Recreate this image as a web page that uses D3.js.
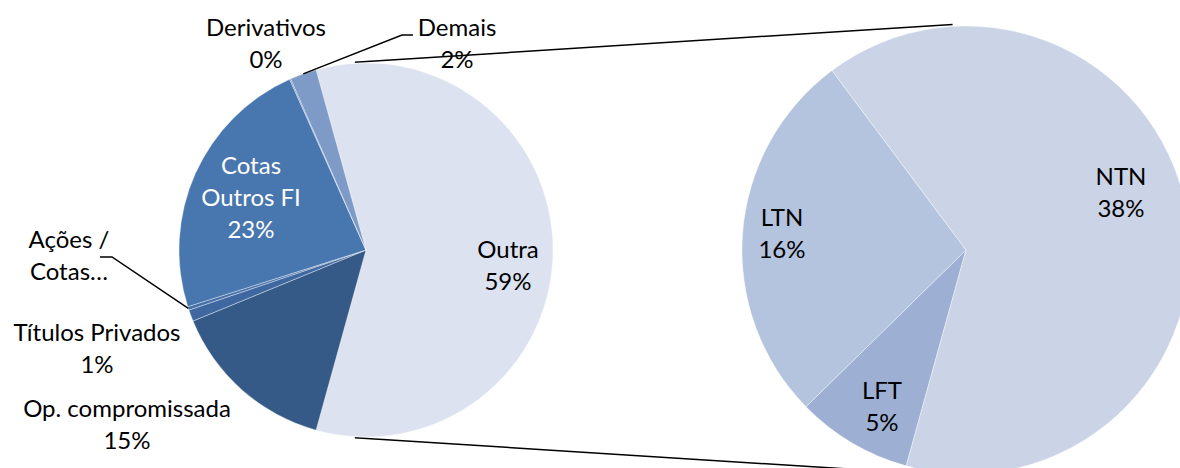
<!DOCTYPE html>
<html>
<head>
<meta charset="utf-8">
<script src="https://cdn.jsdelivr.net/npm/d3@7"></script>
<style>
  body { margin: 0; background: #fff; }
  svg text { font-family: Lato, "Open Sans", sans-serif; }
</style>
</head>
<body>
<svg id="chart"></svg>
<script>
// primary pie (clockwise, starting with the "Outra" slice)
const leftNames = ["Outra", "Op. compromissada", "Títulos Privados", "Ações / Cotas…", "Cotas Outros FI", "Derivativos", "Demais"];
const leftValues = [58.6, 14.5, 1.0, 0.3, 23.2, 0.1, 2.3];
const leftColors = ["#dce2ef", "#355a87", "#3f68a0", "#4470a8", "#4876ae", "#5a82b8", "#7e9bc8"];

// secondary pie (breakdown of "Outra")
const rightNames = ["LFT", "LTN", "NTN"];
const rightValues = [4.9, 15.9, 37.8];
const rightColors = ["#9db0d3", "#b4c3de", "#cad4e6"];

// label layout: lines, center x, first baseline, text colour, show percent
const labelLayout = {
    "Outra":            {lines: ["Outra"], x: 508, y: 258},
    "Op. compromissada":{lines: ["Op. compromissada"], x: 127, y: 417},
    "Títulos Privados": {lines: ["Títulos Privados"], x: 97, y: 341},
    "Ações / Cotas…":   {lines: ["Ações /", "Cotas…"], x: 69, y: 248, noPct: true},
    "Cotas Outros FI":  {lines: ["Cotas", "Outros FI"], x: 251, y: 174, fill: "#fff"},
    "Derivativos":      {lines: ["Derivativos"], x: 266, y: 36},
    "Demais":           {lines: ["Demais"], x: 457, y: 36},
    "LFT":              {lines: ["LFT"], x: 882, y: 399},
    "LTN":              {lines: ["LTN"], x: 782, y: 226},
    "NTN":              {lines: ["NTN"], x: 1121, y: 185}
};
// leader elbows (label side) for the small slices
const leaders = {
    "Demais": [[402, 35], [413, 35]],
    "Ações / Cotas…": [[112, 257], [100, 257]]
};

const width = 1180, height = 468;
const left = {cx: 366, cy: 250, r: 187};
const right = {cx: 966, cy: 250, r: 224};
const lineGap = 32;

const svg = d3.select("#chart").attr("width", width).attr("height", height);

const outraShare = leftValues[0] / d3.sum(leftValues);
const leftStart = Math.PI / 2 - outraShare * Math.PI;

const leftPie = d3.pie().sort(null).value(d => d.value)
    .startAngle(leftStart).endAngle(leftStart + 2 * Math.PI);
const rightStart = leftStart + outraShare * 2 * Math.PI;
const rightPie = d3.pie().sort(null).value(d => d.value)
    .startAngle(rightStart).endAngle(rightStart + 2 * Math.PI);

const leftData = leftPie(leftNames.map((n, i) => ({name: n, value: leftValues[i], color: leftColors[i]})));
const rightData = rightPie(rightNames.map((n, i) => ({name: n, value: rightValues[i], color: rightColors[i]})));

const polar = (c, a, r) => [c.cx + r * Math.sin(a), c.cy - r * Math.cos(a)];

// connector lines between the two pies
const tilt = 3.4 * Math.PI / 180;
const connectors = [
    [polar(left, -tilt, left.r + 1), polar(right, -tilt, right.r + 2)],
    [polar(left, Math.PI + tilt, left.r + 1), polar(right, Math.PI + tilt, right.r + 2)]
];
svg.append("g").selectAll("line")
    .data(connectors)
    .join("line")
    .attr("x1", d => d[0][0]).attr("y1", d => d[0][1])
    .attr("x2", d => d[1][0]).attr("y2", d => d[1][1])
    .attr("stroke", "#000")
    .attr("stroke-width", 1.5);

function drawPie(data, c) {
    const arc = d3.arc().innerRadius(0).outerRadius(c.r);
    svg.append("g")
        .attr("transform", `translate(${c.cx},${c.cy})`)
        .selectAll("path")
        .data(data)
        .join("path")
        .attr("d", arc)
        .attr("fill", d => d.data.color)
        .attr("stroke", "#fff")
        .attr("stroke-opacity", 0.55)
        .attr("stroke-width", 0.7);
}
drawPie(leftData, left);
drawPie(rightData, right);

// leader lines
leftData.filter(d => leaders[d.data.name]).forEach(d => {
    const mid = (d.startAngle + d.endAngle) / 2;
    const pts = [polar(left, mid, left.r)].concat(leaders[d.data.name]);
    svg.append("path")
        .attr("d", d3.line()(pts))
        .attr("fill", "none")
        .attr("stroke", "#000")
        .attr("stroke-width", 1.5);
});

// data labels
function drawLabels(data) {
    data.forEach(d => {
        const lay = labelLayout[d.data.name];
        const lines = lay.noPct ? lay.lines : lay.lines.concat([Math.round(d.data.value) + "%"]);
        const t = svg.append("text")
            .attr("text-anchor", "middle")
            .attr("font-size", 24)
            .attr("fill", lay.fill || "#000");
        lines.forEach((s, i) => {
            t.append("tspan")
                .attr("x", lay.x)
                .attr("y", lay.y + i * lineGap)
                .text(s);
        });
    });
}
drawLabels(leftData);
drawLabels(rightData);
</script>
</body>
</html>
